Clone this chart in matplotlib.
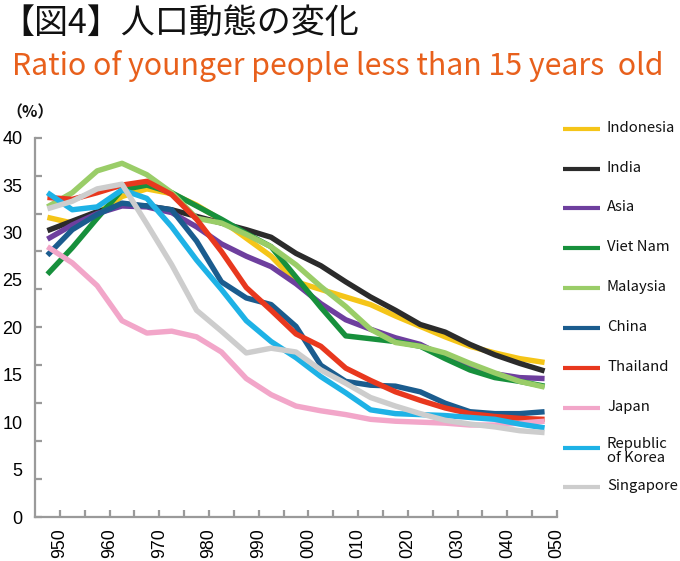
import matplotlib
matplotlib.use("Agg")
import matplotlib.pyplot as plt
from matplotlib.lines import Line2D

years = list(range(1950, 2051, 5))

indonesia = [31.6, 31.0, 32.0, 33.8, 34.6, 34.1, 32.9, 31.3, 29.4, 27.5, 24.8, 24.0, 23.2, 22.4, 21.2, 20.1, 19.0, 18.0, 17.3, 16.7, 16.3]
india     = [30.2, 31.2, 32.2, 32.9, 32.8, 32.4, 31.7, 31.0, 30.3, 29.5, 27.8, 26.5, 24.8, 23.2, 21.8, 20.3, 19.5, 18.2, 17.1, 16.2, 15.4]
asia      = [29.3, 30.8, 32.0, 32.8, 32.7, 32.1, 30.6, 28.8, 27.5, 26.4, 24.6, 22.5, 20.8, 19.8, 18.9, 18.2, 16.9, 15.9, 15.1, 14.7, 14.6]
vietnam   = [25.6, 28.4, 31.5, 34.5, 35.0, 34.2, 32.8, 31.4, 29.9, 28.5, 25.3, 22.1, 19.1, 18.8, 18.5, 18.0, 16.7, 15.5, 14.7, 14.3, 13.8]
malaysia  = [32.7, 34.2, 36.5, 37.3, 36.1, 34.2, 31.5, 31.0, 29.8, 28.5, 26.6, 24.3, 22.2, 19.8, 18.4, 18.0, 17.3, 16.2, 15.2, 14.3, 13.7]
china     = [27.6, 30.3, 31.9, 33.1, 32.8, 32.4, 29.1, 24.8, 23.1, 22.4, 20.1, 16.0, 14.3, 13.9, 13.8, 13.2, 12.0, 11.1, 10.9, 10.9, 11.1]
thailand  = [33.7, 33.5, 34.2, 35.0, 35.4, 34.0, 31.4, 28.0, 24.2, 21.8, 19.3, 18.0, 15.7, 14.4, 13.2, 12.3, 11.5, 10.9, 10.6, 10.4, 10.3]
japan     = [28.5, 26.8, 24.4, 20.7, 19.4, 19.6, 19.0, 17.4, 14.6, 12.9, 11.7, 11.2, 10.8, 10.3, 10.1, 10.0, 9.9, 9.7, 9.7, 9.9, 10.1]
korea     = [34.2, 32.4, 32.7, 34.5, 33.6, 30.6, 27.1, 24.0, 20.7, 18.5, 16.8, 14.8, 13.1, 11.3, 10.9, 10.8, 10.7, 10.5, 10.3, 9.8, 9.4]
singapore = [32.5, 33.3, 34.6, 35.1, 30.9, 26.6, 21.8, 19.6, 17.3, 17.8, 17.4, 15.5, 14.1, 12.6, 11.7, 10.9, 10.2, 9.8, 9.5, 9.1, 8.9]

series_names = ["Indonesia", "India", "Asia", "Viet Nam", "Malaysia", "China",
                "Thailand", "Japan", "Republic\nof Korea", "Singapore"]
series_values = [indonesia, india, asia, vietnam, malaysia, china,
                 thailand, japan, korea, singapore]
colors = ["#F5C518", "#2B2B2B", "#6E3F9E", "#17903C", "#9ACD68", "#1B5C8E",
          "#E8381E", "#F2A6C9", "#1EB2E6", "#CDCDCD"]

x_tick_labels = ["950", "960", "970", "980", "990", "000", "010", "020", "030", "040", "050"]
y_tick_labels = ["0", "5", "10", "15", "20", "25", "30", "35", "40"]

title = "【図4】人口動態の変化"
subtitle = "Ratio of younger people less than 15 years  old"

JP = ["Noto Sans CJK JP", "DejaVu Sans"]
NUM = ["Liberation Sans", "DejaVu Sans"]

W, H = 680, 561
fig = plt.figure(figsize=(W / 100, H / 100), dpi=100)
ax = fig.add_axes([35 / W, 44 / H, 522 / W, 379.3 / H])

for vals, c in zip(series_values, colors):
    ax.plot(years, vals, color=c, lw=3.9, solid_capstyle="butt", solid_joinstyle="round")

ax.set_xlim(1947.5, 2052.5)
ax.set_ylim(0, 40)

grey = "#9A9A9A"
for s in ["top", "right"]:
    ax.spines[s].set_visible(False)
for s in ["left", "bottom"]:
    ax.spines[s].set_color(grey)
    ax.spines[s].set_linewidth(1.6)

ax.xaxis.remove_overlapping_locs = False
ax.yaxis.remove_overlapping_locs = False

# tick marks
ax.set_xticks([1952.5 + 5 * k for k in range(21)])
ax.set_xticklabels([])
ax.set_xticks([1952.5 + 10 * k for k in range(11)], minor=True)
ax.set_xticklabels(x_tick_labels, minor=True, rotation=90, fontsize=12.8, family=NUM, va="top")
ax.set_yticks([4 * k for k in range(11)])
ax.set_yticklabels([])
ax.set_yticks([5 * k for k in range(9)], minor=True)
ax.set_yticklabels(y_tick_labels, minor=True, fontsize=13, family=NUM)

ax.tick_params(which="major", direction="in", length=5, width=1.6, color=grey)
ax.tick_params(which="minor", length=0)
ax.tick_params(axis="y", which="minor", pad=9)
ax.tick_params(axis="x", which="minor", pad=8)

# legend drawn manually
leg_y = [129.3, 169.3, 208.3, 248.3, 288.3, 328.3, 367.7, 408.3, 447.7, 487.3]
for name, c, yy in zip(series_names, colors, leg_y):
    yf = 1 - yy / H
    fig.add_artist(Line2D([563 / W, 600 / W], [yf, yf], color=c, lw=3.0,
                          solid_capstyle="butt", transform=fig.transFigure))
    ty = yy + (3.5 if "\n" in name else -1)
    fig.text(607 / W, 1 - ty / H, name, fontsize=10.7, family=JP, va="center",
             ha="left", linespacing=0.95, color="#111111")

fig.text(6 / W, 1 - 112 / H, "（%）", fontsize=11.5, family=JP, va="center", ha="left",
         color="#111111", weight="bold")

fig.text(0, 1 - 24 / H, title, fontsize=24.5, family=JP, va="center", ha="left", color="#111111")
fig.text(12 / W, 1 - 66 / H, subtitle, fontsize=21.8, family=JP, va="center", ha="left", color="#E8601C")

fig.savefig("out.png", dpi=100)
